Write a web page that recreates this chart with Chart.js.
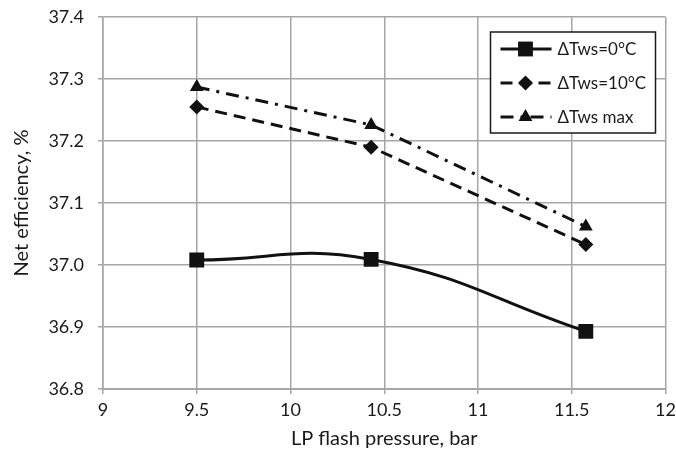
<!DOCTYPE html>
<html>
<head>
<meta charset="utf-8">
<script src="https://cdn.jsdelivr.net/npm/chart.js@4"></script>
<style>
html, body { margin: 0; padding: 0; background: #fff; }
#wrap { width: 676px; height: 455px; }
</style>
</head>
<body>
<div id="wrap"><canvas id="myChart"></canvas></div>
<script>
var pressure = [9.5, 10.43, 11.575]

var effDt0 = [37.008, 37.009, 36.893]
var effDt10 = [37.255, 37.19, 37.033]
var effDtMax = [37.287, 37.226, 37.062]

var seriesNames = ["ΔTws=0°C", "ΔTws=10°C", "ΔTws max"]

function pts(ys) {
  return pressure.map(function (x, i) { return {x: x, y: ys[i]}; });
}

var gridColor = '#a6a6a6';
Chart.defaults.font.family = 'Lato, "Open Sans", sans-serif';
Chart.defaults.color = '#1a1a1a';

// legend drawn inside the plot, Excel style (line + marker sample)
function drawMarker(ctx, style, x, y, r) {
  ctx.beginPath();
  if (style === 'rect') {
    var s = r * Math.SQRT1_2;
    ctx.rect(x - s, y - s, 2 * s, 2 * s);
  } else if (style === 'rectRot') {
    ctx.moveTo(x, y - r); ctx.lineTo(x + r, y); ctx.lineTo(x, y + r); ctx.lineTo(x - r, y);
    ctx.closePath();
  } else if (style === 'triangle') {
    var h = r * Math.sin(Math.PI / 3);
    ctx.moveTo(x, y - r); ctx.lineTo(x + h, y + r / 2); ctx.lineTo(x - h, y + r / 2);
    ctx.closePath();
  }
  ctx.fill();
}

var boxLegend = {
  id: 'boxLegend',
  afterDraw: function (chart) {
    var ctx = chart.ctx;
    var area = chart.chartArea;
    var bx = area.right - 175, by = area.top + 15, bw = 165, bh = 101;
    ctx.save();
    ctx.fillStyle = '#fff';
    ctx.fillRect(bx, by, bw, bh);
    ctx.strokeStyle = '#1a1a1a';
    ctx.lineWidth = 1.5;
    ctx.strokeRect(bx, by, bw, bh);
    chart.data.datasets.forEach(function (ds, i) {
      var y = by + 17 + i * 34;
      ctx.strokeStyle = ds.borderColor;
      ctx.lineWidth = ds.borderWidth;
      ctx.setLineDash(ds.borderDash || []);
      ctx.beginPath();
      ctx.moveTo(bx + 10, y);
      ctx.lineTo(bx + 61, y);
      ctx.stroke();
      ctx.setLineDash([]);
      ctx.fillStyle = ds.pointBackgroundColor;
      drawMarker(ctx, ds.pointStyle, bx + 35, y, ds.pointRadius);
      ctx.fillStyle = '#1a1a1a';
      ctx.font = '17px Lato, "Open Sans", sans-serif';
      ctx.textBaseline = 'middle';
      ctx.fillText(ds.label, bx + 67, y + 1);
    });
    ctx.restore();
  }
};

var effHtml = document.getElementById('myChart').getContext('2d');
var myChart = new Chart(effHtml, {
  type: 'line',
  data: {
    datasets: [{
      label: seriesNames[0],
      data: pts(effDt0),
      borderColor: '#111',
      borderWidth: 3,
      tension: 0.45,
      pointStyle: 'rect',
      pointRadius: 10.5,
      pointBackgroundColor: '#111',
      pointBorderWidth: 0,
      fill: false
    }, {
      label: seriesNames[1],
      data: pts(effDt10),
      borderColor: '#111',
      borderWidth: 3,
      borderDash: [12, 7],
      pointStyle: 'rectRot',
      pointRadius: 7.5,
      pointBackgroundColor: '#111',
      pointBorderWidth: 0,
      fill: false
    }, {
      label: seriesNames[2],
      data: pts(effDtMax),
      borderColor: '#111',
      borderWidth: 3,
      borderDash: [13, 7, 3, 7],
      pointStyle: 'triangle',
      pointRadius: 8,
      pointBackgroundColor: '#111',
      pointBorderWidth: 0,
      fill: false
    }]
  },
  options: {
    responsive: true,
    maintainAspectRatio: false,
    animation: false,
    layout: { padding: { top: 17, right: 9, left: 0, bottom: 0 } },
    plugins: {
      legend: { display: false },
      tooltip: { enabled: false }
    },
    scales: {
      x: {
        type: 'linear',
        min: 9, max: 12,
        ticks: {
          stepSize: 0.5, font: { size: 18 }, padding: 5, color: '#1a1a1a',
          callback: function (v) { return String(Math.round(v * 10) / 10); }
        },
        grid: { color: gridColor, lineWidth: 1.5, tickLength: 5 },
        border: { color: gridColor, width: 2 },
        title: { display: true, text: 'LP flash pressure, bar', font: { size: 20 }, color: '#1a1a1a', padding: { top: 1 } },
        afterFit: function (scale) {
          scale.height = 66;
          scale.paddingLeft = 0;
          scale.paddingRight = 0;
        }
      },
      y: {
        min: 36.8, max: 37.4,
        ticks: {
          stepSize: 0.1, font: { size: 18 }, padding: 14, color: '#1a1a1a',
          callback: function (v) { return v.toFixed(1); }
        },
        grid: { color: gridColor, lineWidth: 1.5, tickLength: 5 },
        border: { color: gridColor, width: 1.5 },
        title: { display: true, text: 'Net efficiency, %', font: { size: 20 }, color: '#1a1a1a', padding: { top: 10, bottom: 0 } },
        afterFit: function (scale) {
          scale.width = 103;
          scale.paddingTop = 0;
          scale.paddingBottom = 0;
        }
      }
    }
  },
  plugins: [boxLegend]
});
</script>
</body>
</html>
